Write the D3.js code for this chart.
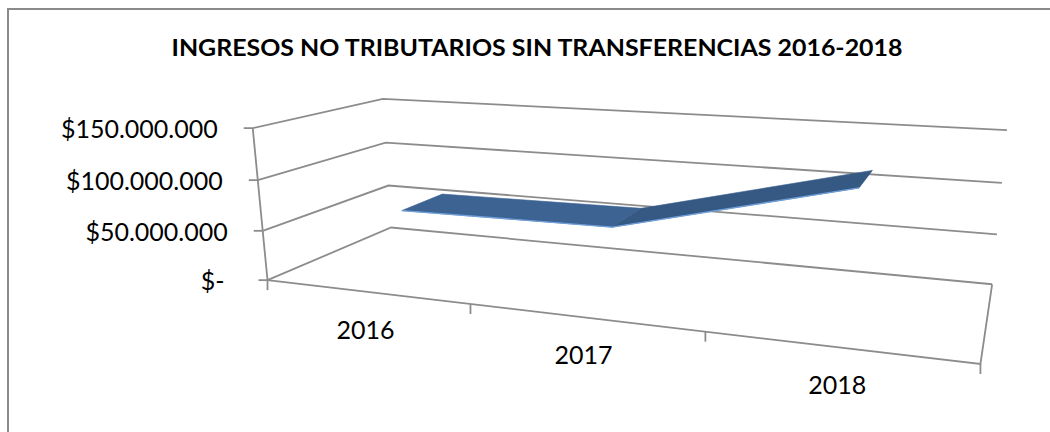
<!DOCTYPE html>
<html>
<head>
<meta charset="utf-8">
<script src="https://cdn.jsdelivr.net/npm/d3@7"></script>
<style>
  body { margin: 0; background: #fff; }
  svg { display: block; }
</style>
</head>
<body>
<svg id="chart" width="1050" height="432"></svg>
<script>
var d3 = globalThis.d3;

// values
const years = ["2016", "2017", "2018"];
const ingresos = [63000000, 65000000, 118000000];
const yTicks = [0, 50000000, 100000000, 150000000];
const chartTitle = "INGRESOS NO TRIBUTARIOS SIN TRANSFERENCIAS 2016-2018";

const svg = d3.select("#chart");

// world space: x = category units (0..3), y = value units (0..3), z = depth (0 front, 1 back)
const x = d3.scaleBand().domain(years).range([0, 3]);
const y = d3.scaleLinear().domain([0, 150000000]).range([0, 3]);

// where the corners of the 3d box land on screen (used to fit the camera)
const anchors = [
    [0, 0, 0, 268, 279], [0, 1, 0, 262, 230], [0, 2, 0, 257, 180], [0, 3, 0, 254, 128],
    [0, 0, 1, 392, 227], [0, 1, 1, 388, 186], [0, 2, 1, 385, 143], [0, 3, 1, 383, 99],
    [3, 0, 1, 992, 284], [3, 1, 1, 997, 234], [3, 2, 1, 1002, 183], [3, 3, 1, 1007, 130],
    [3, 0, 0, 980, 362], [1, 0, 0, 470, 305], [2, 0, 0, 706, 335]
];

function fitCamera(pts) {
    const n = 11;
    const M = [];
    for (let i = 0; i < n; i++) M.push(new Array(n + 1).fill(0));
    const addRow = (row, rhs) => {
        for (let i = 0; i < n; i++) {
            for (let j = 0; j < n; j++) M[i][j] += row[i] * row[j];
            M[i][n] += row[i] * rhs;
        }
    };
    pts.forEach(([X, Y, Z, u, v]) => {
        addRow([X, Y, Z, 1, 0, 0, 0, 0, -u * X, -u * Y, -u * Z], u);
        addRow([0, 0, 0, 0, X, Y, Z, 1, -v * X, -v * Y, -v * Z], v);
    });
    for (let c = 0; c < n; c++) {
        let p = c;
        for (let r = c + 1; r < n; r++) if (Math.abs(M[r][c]) > Math.abs(M[p][c])) p = r;
        [M[c], M[p]] = [M[p], M[c]];
        for (let r = 0; r < n; r++) {
            if (r === c) continue;
            const f = M[r][c] / M[c][c];
            for (let k = c; k <= n; k++) M[r][k] -= f * M[c][k];
        }
    }
    const P = M.map((row, i) => row[n] / row[i]);
    return (X, Y, Z) => {
        const w = P[8] * X + P[9] * Y + P[10] * Z + 1;
        return [(P[0] * X + P[1] * Y + P[2] * Z + P[3]) / w,
                (P[4] * X + P[5] * Y + P[6] * Z + P[7]) / w];
    };
}

const proj = fitCamera(anchors);
const line = d3.line();
const gridColor = "#8c8c8c";

// chart frame
svg.append("rect")
    .attr("x", 8).attr("y", 9)
    .attr("width", 1100).attr("height", 500)
    .attr("fill", "none")
    .attr("stroke", "#8a8a8a")
    .attr("stroke-width", 2);

// title
svg.append("text")
    .attr("x", 537).attr("y", 56)
    .attr("text-anchor", "middle")
    .attr("textLength", 731)
    .attr("lengthAdjust", "spacingAndGlyphs")
    .style("font-family", "Lato, 'Open Sans', sans-serif")
    .style("font-weight", "bold")
    .style("font-size", "22px")
    .style("fill", "#000")
    .text(chartTitle);

const g = svg.append("g")
    .attr("fill", "none")
    .attr("stroke", gridColor)
    .attr("stroke-width", 1.8);

// gridlines on the side wall and the back wall
yTicks.forEach(t => {
    g.append("path").attr("d", line([proj(0, y(t), 0), proj(0, y(t), 1), proj(3, y(t), 1)]));
});

// value axis with its ticks
g.append("path").attr("d", line([proj(0, 0, 0), proj(0, 3, 0)]));
yTicks.forEach(t => {
    const p = proj(0, y(t), 0);
    g.append("path").attr("d", line([[p[0] - 9, p[1]], p]));
});

// floor edges and category ticks
g.append("path").attr("d", line([proj(0, 0, 0), proj(3, 0, 0), proj(3, 0, 1)]));
[0, 1, 2, 3].forEach(i => {
    const p = proj(i, 0, 0);
    g.append("path").attr("d", line([p, [p[0], p[1] + 10]]));
});

// value labels
const fmt = d3.formatLocale({ decimal: ",", thousands: ".", grouping: [3], currency: ["$", ""] }).format("$,");
svg.append("g")
    .selectAll("text")
    .data(yTicks)
    .join("text")
    .attr("x", d => proj(0, y(d), 0)[0] - (d === 0 ? 43 : 35))
    .attr("y", d => proj(0, y(d), 0)[1] + 10)
    .attr("text-anchor", "end")
    .style("font-family", "Lato, 'Open Sans', sans-serif")
    .style("font-size", "25px")
    .style("fill", "#000")
    .text(d => d === 0 ? "$-" : fmt(d));

// category labels
svg.append("g")
    .selectAll("text")
    .data(years)
    .join("text")
    .attr("x", d => proj(x(d) + 0.5, 0, 0)[0])
    .attr("y", d => proj(x(d) + 0.5, 0, 0)[1] + 47)
    .attr("text-anchor", "middle")
    .style("font-family", "Lato, 'Open Sans', sans-serif")
    .style("font-size", "25px")
    .style("fill", "#000")
    .text(d => d);

// the 3d line (a ribbon sitting in the middle of the depth)
const zFront = 0.32, zBack = 0.68;
const pts = years.map((d, i) => [x(d) + 0.5, y(ingresos[i])]);
const segFill = ["#3d6393", "#365984"];
const ribbon = svg.append("g");
for (let i = 0; i < pts.length - 1; i++) {
    const a = pts[i], b = pts[i + 1];
    ribbon.append("path")
        .attr("d", line([proj(a[0], a[1], zFront), proj(b[0], b[1], zFront),
                         proj(b[0], b[1], zBack), proj(a[0], a[1], zBack)]) + "Z")
        .attr("fill", segFill[i])
        .attr("stroke", segFill[i])
        .attr("stroke-width", 0.6);
}
ribbon.append("path")
    .attr("d", line(pts.map(p => proj(p[0], p[1], zFront))))
    .attr("fill", "none")
    .attr("stroke", "#6f9fd8")
    .attr("stroke-width", 1.4);
</script>
</body>
</html>
